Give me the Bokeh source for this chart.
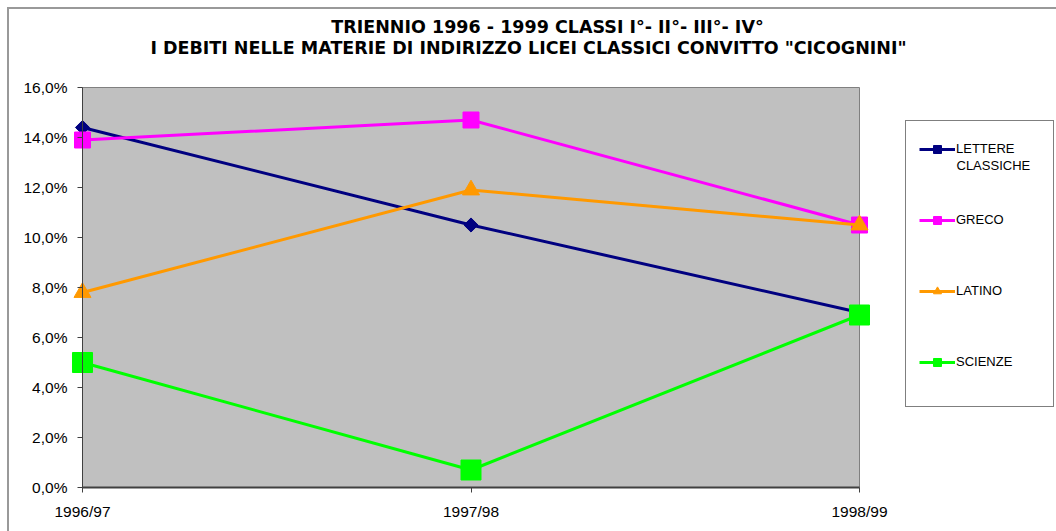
import numpy as np
from bokeh.plotting import figure
from bokeh.models import Range1d, FixedTicker, Legend, LegendItem, Label, LinearAxis
from bokeh.embed import file_html
from bokeh.resources import INLINE

# ---- data ----
periods = ["1996/97", "1997/98", "1998/99"]
lettere_classiche = [14.4, 10.5, 7.0]
greco = [13.9, 14.7, 10.5]
latino = [7.8, 11.9, 10.5]
scienze = [5.0, 0.7, 6.9]
y_ticks = [0, 2, 4, 6, 8, 10, 12, 14, 16]
y_tick_labels = ["0,0%", "2,0%", "4,0%", "6,0%", "8,0%", "10,0%", "12,0%", "14,0%", "16,0%"]
title_line1 = "TRIENNIO 1996 - 1999 CLASSI I°- II°- III°- IV°"
title_line2 = 'I DEBITI NELLE MATERIE DI INDIRIZZO LICEI CLASSICI CONVITTO "CICOGNINI"'

xs = list(range(len(periods)))
FONT = "Liberation Sans"
TITLE_FONT = "DejaVu Sans"

# ---- geometry (pixels) ----
W, H = 1056, 531
X0_PX, XSTEP_PX = 82.0, 388.5      # where category 0 sits, px per category
Y0_PX, YUNIT_PX = 487.0, 25.0      # where 0% sits, px per 1%

x_start = -X0_PX / XSTEP_PX
x_end = (W - X0_PX) / XSTEP_PX
y_start = -(H - Y0_PX) / YUNIT_PX
y_end = Y0_PX / YUNIT_PX


def dx(px):
    return (px - X0_PX) / XSTEP_PX


def dy(py):
    return (Y0_PX - py) / YUNIT_PX


p = figure(width=W, height=H, min_border_left=0, min_border_right=0, min_border_top=0,
           min_border_bottom=0, x_axis_location=None, y_axis_location=None,
           x_range=Range1d(x_start, x_end), y_range=Range1d(y_start, y_end),
           output_backend="svg", toolbar_location=None, tools="")
p.background_fill_color = "white"
p.border_fill_color = "white"
p.outline_line_color = None
p.xgrid.grid_line_color = None
p.ygrid.grid_line_color = None

# plot area
p.quad(left=[xs[0]], right=[xs[-1]], bottom=[y_ticks[0]], top=[y_ticks[-1]],
       fill_color="#C0C0C0", line_color="#808080", line_width=1)

series = [
    ("LETTERE", lettere_classiche, "#000080", dict(marker="square", angle=np.pi / 4, size=10)),
    ("GRECO", greco, "#FF00FF", dict(marker="square", size=16)),
    ("LATINO", latino, "#FF9900", dict(marker="triangle", size=17)),
    ("SCIENZE", scienze, "#00FF00", dict(marker="square", size=20)),
]
items = []
for name, vals, col, mk in series:
    l = p.line(xs, vals, line_color=col, line_width=3)
    s = p.scatter(xs, vals, fill_color=col, line_color=col, **mk)
    items.append(LegendItem(label=name, renderers=[l, s]))

# x axis, drawn inside the frame at 0 %: one axis for ticks and labels ...
xax = LinearAxis(fixed_location=0, ticker=FixedTicker(ticks=xs),
                 major_label_overrides={i: t for i, t in zip(xs, periods)},
                 axis_line_color=None,
                 major_tick_line_color="#404040", major_tick_in=5, major_tick_out=0,
                 minor_tick_line_color=None, major_label_standoff=-32,
                 major_label_text_font=FONT, major_label_text_font_size="15.5px",
                 major_label_text_color="black")
p.add_layout(xax, "above")
# ... and one for the axis line, limited to the plotted categories
xline = LinearAxis(fixed_location=0, bounds=(xs[0], xs[-1]), ticker=FixedTicker(ticks=xs),
                   major_label_overrides={i: "" for i in xs},
                   axis_line_color="#404040", axis_line_width=2,
                   major_tick_line_color=None, major_tick_in=0, major_tick_out=0,
                   minor_tick_line_color=None, major_label_standoff=-40,
                   major_label_text_font_size="1px")
p.add_layout(xline, "above")

# y axis: kept inside the frame at the first category, labels pushed to its left
width_chars = max(len(t) for t in y_tick_labels)
padded = [t.rjust(width_chars, "\u2007") for t in y_tick_labels]
yax = LinearAxis(fixed_location=0, bounds=(y_ticks[0], y_ticks[-1]),
                 ticker=FixedTicker(ticks=y_ticks),
                 major_label_overrides={t: l for t, l in zip(y_ticks, padded)},
                 axis_line_color="#404040", axis_line_width=1,
                 major_tick_line_color="#404040", major_tick_in=5, major_tick_out=0,
                 minor_tick_line_color=None, major_label_standoff=-59,
                 major_label_text_font=FONT, major_label_text_font_size="15.5px",
                 major_label_text_color="black")
p.add_layout(yax, "right")

# titles
p.add_layout(Label(x=dx(547), y=dy(26.5), text=title_line1,
                   text_align="center", text_baseline="middle", text_font=TITLE_FONT,
                   text_font_size="17.5px", text_font_style="bold", text_color="black"))
p.add_layout(Label(x=dx(528), y=dy(47.5), text=title_line2,
                   text_align="center", text_baseline="middle", text_font=TITLE_FONT,
                   text_font_size="17.5px", text_font_style="bold", text_color="black"))

# invisible renderer used only to give the box legends an item
dummy = p.line(xs, scienze, line_alpha=0)

# outer chart border (legend locations are measured from the frame's bottom-left)
outer = Legend(items=[LegendItem(label=" ", renderers=[dummy])], location=(7, -100),
               padding=0, margin=0, glyph_width=1, glyph_height=1, label_standoff=0,
               label_width=1200, label_height=H + 100 - 11, border_line_color="#333333",
               border_line_width=2, background_fill_alpha=0)
p.add_layout(outer, "center")

# legend box
box = Legend(items=[LegendItem(label=" ", renderers=[dummy])], location=(905, H - 407),
             padding=0, margin=0, glyph_width=1, glyph_height=1, label_standoff=0,
             label_width=146, label_height=285, border_line_color="black", border_line_width=1,
             background_fill_alpha=0)
p.add_layout(box, "center")

leg = Legend(items=items, location=(905, H - 385.5), padding=14, margin=0, spacing=51,
             glyph_width=36, glyph_height=20, label_height=20, label_standoff=1,
             label_text_font=FONT, label_text_font_size="13px", label_text_color="black",
             border_line_alpha=0, background_fill_alpha=0)
p.add_layout(leg, "center")

p.add_layout(Label(x=dx(956), y=dy(165), text="CLASSICHE",
                   text_baseline="middle", text_font=FONT, text_font_size="13px", text_color="black"))

open("out.html", "w").write(file_html(p, INLINE))
